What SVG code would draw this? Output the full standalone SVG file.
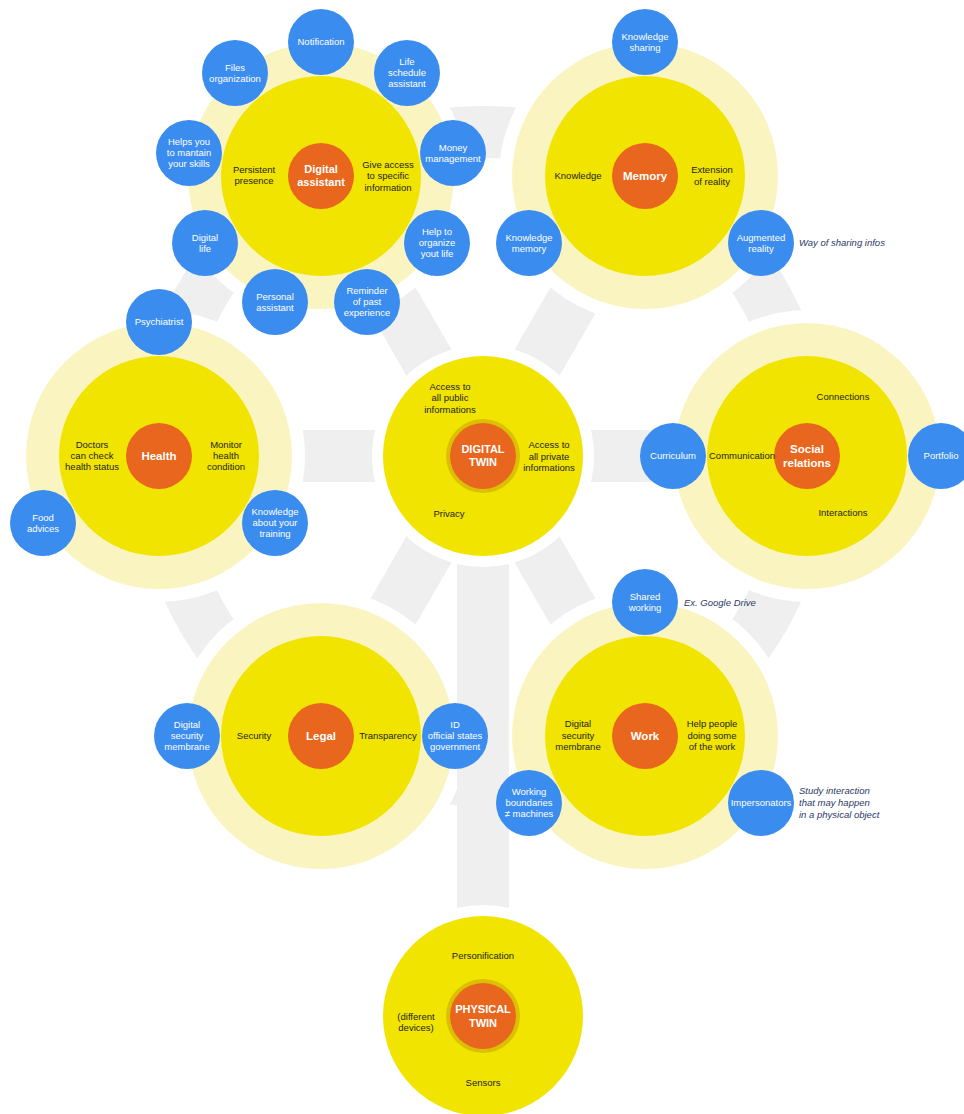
<svg xmlns="http://www.w3.org/2000/svg" width="964" height="1114" viewBox="0 0 964 1114">
<style>
.band{fill:none;stroke:#efefef;stroke-width:52}
.bandfill{fill:#efefef}
.gap{fill:#fff}
.pale{fill:#faf5c0}
.yel{fill:#f1e400}
.org{fill:#e8661d}
.orgring{fill:#dcbf00}
.blue{fill:#3a8cef}
text{font-family:"Liberation Sans",Arial,sans-serif;font-size:9.5px;text-anchor:middle;fill:#1e1e1e}
.w{fill:#fff}
.h{font-weight:bold;font-size:11.5px;fill:#fff}
.hs{font-weight:bold;font-size:11px;fill:#fff}
.note{font-style:italic;fill:#2b3a66;text-anchor:start}
</style>
<rect width="964" height="1114" fill="#fff"/>

<g id="connectors">
  <g id="bands">
    <circle class="band" cx="483" cy="456" r="324"/>
    <line class="band" x1="483" y1="456" x2="321" y2="176"/>
    <line class="band" x1="483" y1="456" x2="645" y2="176"/>
    <line class="band" x1="483" y1="456" x2="159" y2="456"/>
    <line class="band" x1="483" y1="456" x2="807" y2="456"/>
    <line class="band" x1="483" y1="456" x2="321" y2="736"/>
    <line class="band" x1="483" y1="456" x2="645" y2="736"/>
  </g>
  <g id="gaps">
    <circle class="gap" cx="321" cy="176" r="146"/>
    <circle class="gap" cx="645" cy="176" r="146"/>
    <circle class="gap" cx="159" cy="456" r="146"/>
    <circle class="gap" cx="807" cy="456" r="146"/>
    <circle class="gap" cx="321" cy="736" r="146"/>
    <circle class="gap" cx="645" cy="736" r="146"/>
    <circle class="gap" cx="483" cy="456" r="111"/>
    <circle class="gap" cx="483" cy="1016" r="111"/>
  </g>
  <path id="spoke-physical" class="bandfill" d="M457,563.9 A111,111 0 0 0 509,563.9 L509,908.1 A111,111 0 0 0 457,908.1 Z"/>
</g>

<!-- Digital assistant -->
<g id="digital-assistant">
  <circle class="pale" cx="321" cy="176" r="133"/>
  <circle class="yel" cx="321" cy="176" r="100"/>
  <circle class="org" cx="321" cy="176" r="33"/>
  <text class="hs" x="321" y="173">Digital</text>
  <text class="hs" x="321" y="186">assistant</text>
  <text x="254" y="172.5">Persistent</text>
  <text x="254" y="184">presence</text>
  <text x="388" y="167.9">Give access</text>
  <text x="388" y="179.4">to specific</text>
  <text x="388" y="190.9">information</text>
</g>
<g id="da-notification"><circle class="blue" cx="321" cy="42" r="33"/><text class="w" x="321" y="45.4">Notification</text></g>
<g id="da-life-schedule"><circle class="blue" cx="407" cy="73" r="33"/><text class="w" x="407" y="65.4">Life</text><text class="w" x="407" y="76.4">schedule</text><text class="w" x="407" y="87.4">assistant</text></g>
<g id="da-money"><circle class="blue" cx="453" cy="153" r="33"/><text class="w" x="453" y="150.9">Money</text><text class="w" x="453" y="161.9">management</text></g>
<g id="da-organize"><circle class="blue" cx="437" cy="243" r="33"/><text class="w" x="437" y="235.4">Help to</text><text class="w" x="437" y="246.4">organize</text><text class="w" x="437" y="257.4">yout life</text></g>
<g id="da-reminder"><circle class="blue" cx="367" cy="302" r="33"/><text class="w" x="367" y="294.4">Reminder</text><text class="w" x="367" y="305.4">of past</text><text class="w" x="367" y="316.4">experience</text></g>
<g id="da-personal"><circle class="blue" cx="275" cy="302" r="33"/><text class="w" x="275" y="299.9">Personal</text><text class="w" x="275" y="310.9">assistant</text></g>
<g id="da-digital-life"><circle class="blue" cx="205" cy="243" r="33"/><text class="w" x="205" y="240.9">Digital</text><text class="w" x="205" y="251.9">life</text></g>
<g id="da-skills"><circle class="blue" cx="189" cy="153" r="33"/><text class="w" x="189" y="145.4">Helps you</text><text class="w" x="189" y="156.4">to mantain</text><text class="w" x="189" y="167.4">your skills</text></g>
<g id="da-files"><circle class="blue" cx="235" cy="73" r="33"/><text class="w" x="235" y="70.9">Files</text><text class="w" x="235" y="81.9">organization</text></g>

<!-- Memory -->
<g id="memory">
  <circle class="pale" cx="645" cy="176" r="133"/>
  <circle class="yel" cx="645" cy="176" r="100"/>
  <circle class="org" cx="645" cy="176" r="33"/>
  <text class="h" x="645" y="180">Memory</text>
  <text x="578" y="179.4">Knowledge</text>
  <text x="712" y="173.4">Extension</text>
  <text x="712" y="185.4">of reality</text>
</g>
<g id="mem-sharing"><circle class="blue" cx="645" cy="42" r="33"/><text class="w" x="645" y="39.9">Knowledge</text><text class="w" x="645" y="50.9">sharing</text></g>
<g id="mem-memory"><circle class="blue" cx="529" cy="243" r="33"/><text class="w" x="529" y="240.9">Knowledge</text><text class="w" x="529" y="251.9">memory</text></g>
<g id="mem-ar"><circle class="blue" cx="761" cy="243" r="33"/><text class="w" x="761" y="240.9">Augmented</text><text class="w" x="761" y="251.9">reality</text></g>
<text class="note" x="799" y="246.4">Way of sharing infos</text>

<!-- Health -->
<g id="health">
  <circle class="pale" cx="159" cy="456" r="133"/>
  <circle class="yel" cx="159" cy="456" r="100"/>
  <circle class="org" cx="159" cy="456" r="33"/>
  <text class="h" x="159" y="460">Health</text>
  <text x="92" y="448.4">Doctors</text>
  <text x="92" y="459.4">can check</text>
  <text x="92" y="470.4">health status</text>
  <text x="226" y="448.4">Monitor</text>
  <text x="226" y="459.4">health</text>
  <text x="226" y="470.4">condition</text>
</g>
<g id="h-psychiatrist"><circle class="blue" cx="159" cy="322" r="33"/><text class="w" x="159" y="325.4">Psychiatrist</text></g>
<g id="h-food"><circle class="blue" cx="43" cy="523" r="33"/><text class="w" x="43" y="520.9">Food</text><text class="w" x="43" y="531.9">advices</text></g>
<g id="h-training"><circle class="blue" cx="275" cy="523" r="33"/><text class="w" x="275" y="515.4">Knowledge</text><text class="w" x="275" y="526.4">about your</text><text class="w" x="275" y="537.4">training</text></g>

<!-- Digital twin -->
<g id="digital-twin">
  <circle class="yel" cx="483" cy="456" r="100"/>
  <circle class="orgring" cx="483" cy="456" r="37"/>
  <circle class="org" cx="483" cy="456" r="33"/>
  <text class="hs" x="483" y="453">DIGITAL</text>
  <text class="hs" x="483" y="466">TWIN</text>
  <text x="450" y="390.1">Access to</text>
  <text x="450" y="401.4">all public</text>
  <text x="450" y="412.7">informations</text>
  <text x="549" y="448.4">Access to</text>
  <text x="549" y="460.1">all private</text>
  <text x="549" y="471.4">informations</text>
  <text x="449" y="516.7">Privacy</text>
</g>

<!-- Social relations -->
<g id="social-relations">
  <circle class="pale" cx="807" cy="456" r="133"/>
  <circle class="yel" cx="807" cy="456" r="100"/>
  <circle class="org" cx="807" cy="456" r="33"/>
  <text class="h" x="807" y="453">Social</text>
  <text class="h" x="807" y="467">relations</text>
  <text x="843" y="400.4">Connections</text>
  <text x="742" y="459.4">Communication</text>
  <text x="843" y="516.4">Interactions</text>
</g>
<g id="s-curriculum"><circle class="blue" cx="673" cy="456" r="33"/><text class="w" x="673" y="459.4">Curriculum</text></g>
<g id="s-portfolio"><circle class="blue" cx="941" cy="456" r="33"/><text class="w" x="941" y="459.4">Portfolio</text></g>

<!-- Legal -->
<g id="legal">
  <circle class="pale" cx="321" cy="736" r="133"/>
  <circle class="yel" cx="321" cy="736" r="100"/>
  <circle class="org" cx="321" cy="736" r="33"/>
  <text class="h" x="321" y="740">Legal</text>
  <text x="254" y="739.4">Security</text>
  <text x="388" y="739.4">Transparency</text>
</g>
<g id="l-membrane"><circle class="blue" cx="187" cy="736" r="33"/><text class="w" x="187" y="728.4">Digital</text><text class="w" x="187" y="739.4">security</text><text class="w" x="187" y="750.4">membrane</text></g>
<g id="l-id"><circle class="blue" cx="455" cy="736" r="33"/><text class="w" x="455" y="728.4">ID</text><text class="w" x="455" y="739.4">official states</text><text class="w" x="455" y="750.4">government</text></g>

<!-- Work -->
<g id="work">
  <circle class="pale" cx="645" cy="736" r="133"/>
  <circle class="yel" cx="645" cy="736" r="100"/>
  <circle class="org" cx="645" cy="736" r="33"/>
  <text class="h" x="645" y="740">Work</text>
  <text x="578" y="727.4">Digital</text>
  <text x="578" y="739.4">security</text>
  <text x="578" y="750.4">membrane</text>
  <text x="712" y="727.4">Help people</text>
  <text x="712" y="739.4">doing some</text>
  <text x="712" y="750.4">of the work</text>
</g>
<g id="w-shared"><circle class="blue" cx="645" cy="602" r="33"/><text class="w" x="645" y="599.9">Shared</text><text class="w" x="645" y="610.9">working</text></g>
<g id="w-boundaries"><circle class="blue" cx="529" cy="803" r="33"/><text class="w" x="529" y="795.4">Working</text><text class="w" x="529" y="806.4">boundaries</text><text class="w" x="529" y="817.4">≠ machines</text></g>
<g id="w-impersonators"><circle class="blue" cx="761" cy="803" r="33"/><text class="w" x="761" y="806.4">Impersonators</text></g>
<text class="note" x="684" y="606.4">Ex. Google Drive</text>
<text class="note" x="799" y="794.4">Study interaction</text>
<text class="note" x="799" y="806.1">that may happen</text>
<text class="note" x="799" y="817.7">in a physical object</text>

<!-- Physical twin -->
<g id="physical-twin">
  <circle class="yel" cx="483" cy="1016" r="100"/>
  <circle class="orgring" cx="483" cy="1016" r="37"/>
  <circle class="org" cx="483" cy="1016" r="33"/>
  <text class="hs" x="483" y="1013">PHYSICAL</text>
  <text class="hs" x="483" y="1027">TWIN</text>
  <text x="483" y="959.4">Personification</text>
  <text x="416" y="1020.4">(different</text>
  <text x="416" y="1031.4">devices)</text>
  <text x="483" y="1086.4">Sensors</text>
</g>
</svg>
